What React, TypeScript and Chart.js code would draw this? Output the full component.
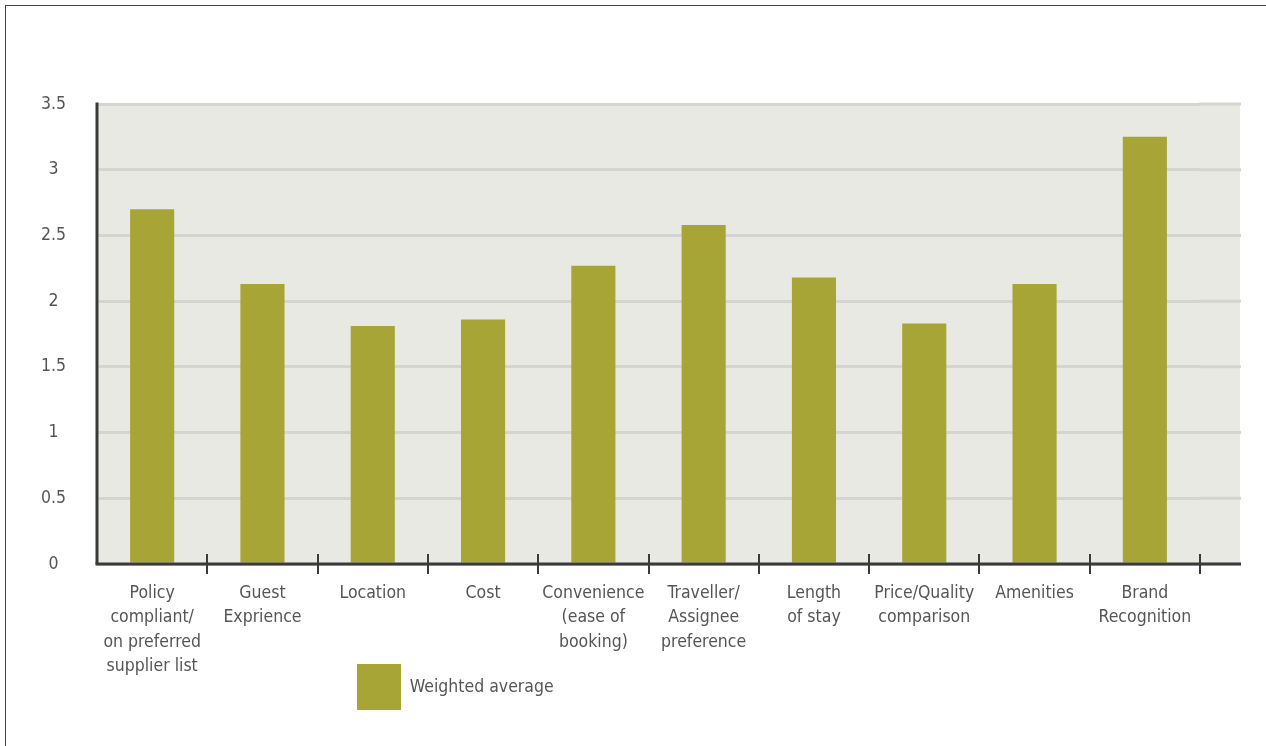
import React, { useEffect, useRef } from "react";
import { Chart, registerables } from "chart.js";

Chart.register(...registerables);

const categories: (string | string[])[] = [
  ["Policy", "compliant/", "on preferred", "supplier list"],
  ["Guest", "Exprience"],
  "Location",
  "Cost",
  ["Convenience", "(ease of", "booking)"],
  ["Traveller/", "Assignee", "preference"],
  ["Length", "of stay"],
  ["Price/Quality", "comparison"],
  "Amenities",
  ["Brand", "Recognition"],
];
const weightedAverage = [2.7, 2.13, 1.81, 1.86, 2.27, 2.58, 2.18, 1.83, 2.13, 3.25];
const seriesLabel = "Weighted average";
const yTickValues = [0, 0.5, 1, 1.5, 2, 2.5, 3, 3.5];

const FONT = "'Liberation Sans Narrow', 'DejaVu Sans Condensed', 'Liberation Sans', sans-serif";
const FONT_SIZE = 17.5;
const TEXT = "#555555";
const BAR = "#a7a536";
const PLOT_BG = "#e8e9e3";
const GRID = "#d4d4d1";
const AXIS = "#3a3a3a";
const EXTEND = 40;

const decorPlugin = {
  id: "decor",
  beforeDraw(chart: any) {
    const { ctx, chartArea } = chart;
    ctx.save();
    ctx.fillStyle = PLOT_BG;
    ctx.fillRect(chartArea.left, chartArea.top, chartArea.right - chartArea.left + EXTEND, chartArea.bottom - chartArea.top);
    ctx.restore();
  },
  beforeDatasetsDraw(chart: any) {
    const { ctx, chartArea, scales } = chart;
    const y = scales.y;
    ctx.save();
    ctx.strokeStyle = GRID;
    ctx.lineWidth = 3;
    yTickValues.forEach((v) => {
      const py = y.getPixelForValue(v);
      ctx.beginPath();
      ctx.moveTo(chartArea.right - 1, py);
      ctx.lineTo(chartArea.right + EXTEND + 1, py);
      ctx.stroke();
    });
    ctx.restore();
  },
  afterDatasetsDraw(chart: any) {
    const { ctx, chartArea, scales } = chart;
    const x = scales.x;
    const yScale = scales.y;
    const bottom = yScale.getPixelForValue(0);
    ctx.save();
    ctx.strokeStyle = AXIS;
    ctx.lineCap = "butt";
    ctx.lineWidth = 3;
    ctx.beginPath();
    ctx.moveTo(chartArea.left - 1.5, bottom);
    ctx.lineTo(chartArea.right + EXTEND + 1, bottom);
    ctx.stroke();
    ctx.beginPath();
    ctx.moveTo(chartArea.left, yScale.getPixelForValue(3.5) - 1.5);
    ctx.lineTo(chartArea.left, bottom);
    ctx.stroke();
    ctx.lineWidth = 2;
    for (let i = 1; i <= categories.length; i++) {
      const px = i < categories.length
        ? (x.getPixelForValue(i - 1) + x.getPixelForValue(i)) / 2
        : x.getPixelForValue(i - 1) + (x.getPixelForValue(i - 1) - x.getPixelForValue(i - 2)) / 2;
      ctx.beginPath();
      ctx.moveTo(Math.round(px), bottom - 10);
      ctx.lineTo(Math.round(px), bottom + 10);
      ctx.stroke();
    }
    ctx.restore();
  },
};

const legendShiftPlugin = {
  id: "legendShift",
  afterLayout(chart: any) {
    const lg = chart.legend;
    if (lg) {
      lg.left += 347;
      lg.right += 347;
      lg.top -= 26;
      lg.bottom -= 26;
    }
  },
};

export default function App() {
  const ref = useRef<HTMLCanvasElement | null>(null);

  useEffect(() => {
    if (!ref.current) return;
    const chart = new Chart(ref.current, {
      type: "bar",
      data: {
        labels: categories as any,
        datasets: [
          {
            label: seriesLabel,
            data: weightedAverage,
            backgroundColor: BAR,
            borderWidth: 0,
            categoryPercentage: 1,
            barPercentage: 0.4,
          },
        ],
      },
      plugins: [decorPlugin, legendShiftPlugin],
      options: {
        responsive: false,
        animation: false,
        devicePixelRatio: 1,
        layout: { padding: { top: 104, right: 66, bottom: 0, left: 0 } },
        plugins: {
          tooltip: { enabled: false },
          legend: {
            position: "bottom",
            align: "start",
            labels: {
              boxWidth: 44,
              boxHeight: 46,
              padding: 10,
              color: TEXT,
              font: { family: FONT, size: FONT_SIZE },
            },
          },
        },
        scales: {
          x: {
            offset: true,
            grid: { display: false, drawTicks: false },
            border: { display: false },
            ticks: {
              color: TEXT,
              padding: 17,
              maxRotation: 0,
              autoSkip: false,
              font: { family: FONT, size: FONT_SIZE, lineHeight: 1.4 },
            },
            afterFit(scale: any) {
              scale.height = 116;
            },
          },
          y: {
            min: 0,
            max: 3.5,
            grid: { color: GRID, lineWidth: 3, drawTicks: false },
            border: { display: false },
            afterBuildTicks(scale: any) {
              scale.ticks = yTickValues.map((v) => ({ value: v }));
            },
            ticks: {
              color: TEXT,
              padding: 31,
              crossAlign: "center",
              font: { family: FONT, size: FONT_SIZE },
              callback: (v: any) => String(v),
            },
            afterFit(scale: any) {
              scale.width = 97;
            },
          },
        },
      },
    });
    return () => chart.destroy();
  }, []);

  return (
    <div style={{ position: "absolute", left: 0, top: 0, width: 1266, height: 746, overflow: "hidden", background: "#fff" }}>
      <div
        style={{
          position: "absolute",
          left: 5,
          top: 5,
          width: 1400,
          height: 900,
          border: "1px solid #444",
          boxSizing: "border-box",
        }}
      />
      <canvas ref={ref} width={1266} height={746} style={{ position: "absolute", left: 0, top: 0, display: "block" }} />
    </div>
  );
}
